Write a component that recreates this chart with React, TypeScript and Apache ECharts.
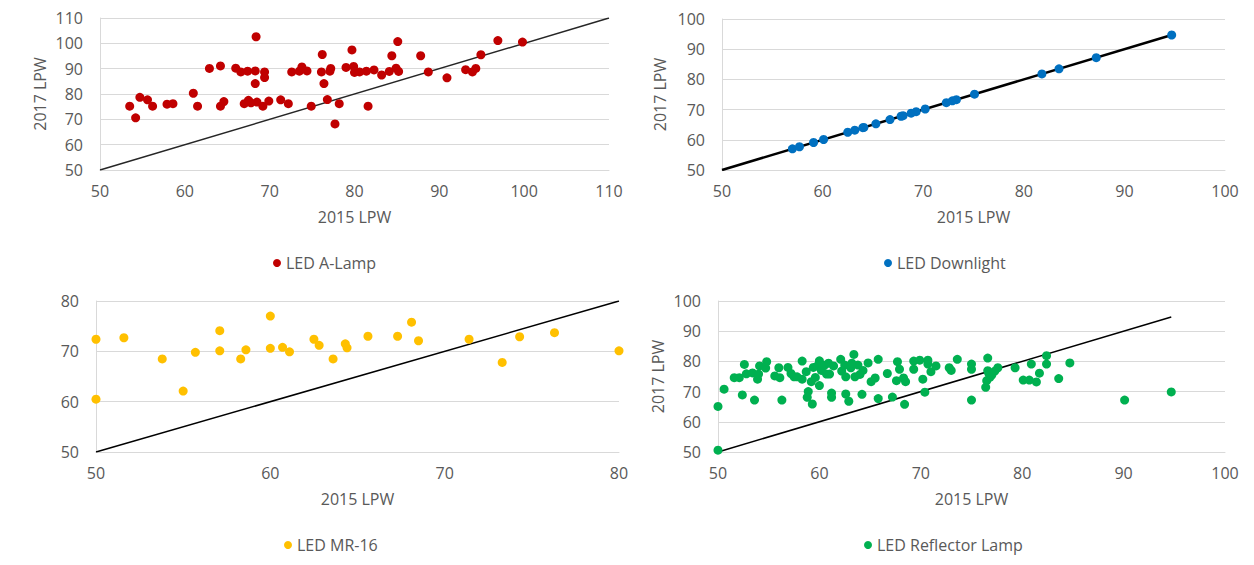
import React, { useEffect, useRef } from "react";
import * as echarts from "echarts";

// ---- Data ----
const aLamp: number[][] = [
  [53.5, 75.2], [54.2, 70.6], [54.7, 78.7], [55.6, 77.7], [56.2, 75.2], [57.9, 76.0], [58.6, 76.2],
  [61.0, 80.3], [61.5, 75.2], [62.9, 90.1], [64.2, 91.1], [64.2, 75.2], [64.6, 77.0], [66.0, 90.2],
  [66.6, 88.7], [67.4, 89.0], [67.0, 76.2], [67.5, 77.5], [67.8, 76.5], [68.4, 102.6], [68.3, 89.1],
  [68.3, 84.1], [68.5, 76.8], [69.2, 75.2], [69.4, 88.7], [69.4, 86.5], [69.9, 77.2], [71.3, 77.7],
  [72.2, 76.2], [72.6, 88.7], [73.5, 89.0], [73.8, 90.7], [74.4, 89.1], [74.9, 75.2], [76.2, 95.6],
  [76.1, 88.7], [76.4, 84.1], [76.8, 77.8], [77.1, 89.0], [77.2, 90.1], [77.7, 68.2], [78.2, 76.2],
  [79.0, 90.5], [79.7, 97.4], [79.9, 90.9], [80.0, 88.5], [80.6, 88.7], [81.4, 89.0], [81.6, 75.2],
  [82.3, 89.5], [83.2, 87.5], [84.1, 88.9], [84.4, 95.1], [84.9, 90.2], [85.1, 100.7], [85.2, 88.9],
  [87.8, 95.1], [88.7, 88.7], [90.9, 86.4], [93.1, 89.6], [93.9, 88.7], [94.3, 90.1], [94.9, 95.5],
  [96.9, 101.1], [99.8, 100.5],
];
const aLampLine: number[][] = [[50, 50], [110, 110]];

const downlight: number[][] = [
  [57.0, 57.0], [57.7, 57.7], [59.1, 59.1], [60.1, 60.1], [62.5, 62.5], [63.2, 63.2], [64.0, 64.0],
  [64.1, 64.1], [65.3, 65.3], [66.7, 66.7], [67.8, 67.8], [68.0, 68.0], [68.8, 68.8], [69.3, 69.3],
  [70.2, 70.2], [72.3, 72.3], [72.9, 72.9], [73.3, 73.3], [75.1, 75.1], [81.8, 81.8], [83.5, 83.5],
  [87.2, 87.2], [94.7, 94.7],
];
const downlightLine: number[][] = [[50, 50], [94.7, 94.7]];

const mr16: number[][] = [
  [50.0, 72.4], [50.0, 60.5], [51.6, 72.7], [53.8, 68.5], [55.0, 62.1], [55.7, 69.8], [57.1, 74.1],
  [57.1, 70.1], [58.3, 68.5], [58.6, 70.3], [60.0, 77.0], [60.0, 70.6], [60.7, 70.8], [61.1, 69.9],
  [62.5, 72.4], [62.8, 71.2], [63.6, 68.5], [64.3, 71.5], [64.4, 70.7], [65.6, 73.0], [67.3, 73.0],
  [68.1, 75.8], [68.5, 72.1], [71.4, 72.4], [73.3, 67.8], [74.3, 72.9], [76.3, 73.7], [80.0, 70.1],
];
const mr16Line: number[][] = [[50, 50], [80, 80]];

const reflector: number[][] = [
  [50.0, 65.1], [50.0, 50.6], [50.6, 70.8], [51.6, 74.6], [52.1, 74.6], [52.4, 68.9], [52.6, 79.0],
  [52.8, 75.9], [53.4, 76.2], [53.6, 67.2], [53.9, 74.1], [54.0, 75.8], [54.1, 78.5], [54.7, 77.8],
  [54.8, 79.9], [55.6, 75.2], [56.0, 77.9], [56.1, 74.6], [56.3, 67.2], [56.9, 78.0], [57.2, 76.0],
  [57.5, 74.9], [57.8, 74.9], [58.3, 80.1], [58.3, 74.1], [58.7, 76.6], [58.9, 70.0], [58.8, 68.1],
  [59.2, 73.3], [59.3, 65.9], [59.4, 78.0], [59.6, 74.7], [59.8, 78.5], [60.0, 80.2], [60.0, 72.0],
  [60.2, 77.0], [60.5, 78.7], [60.7, 75.8], [60.9, 79.4], [61.0, 75.8], [61.2, 69.5], [61.2, 68.1],
  [61.4, 78.5], [62.1, 80.7], [62.2, 76.8], [62.5, 78.8], [62.6, 69.2], [62.6, 74.9], [62.9, 66.8],
  [63.1, 77.9], [63.2, 79.4], [63.4, 82.3], [63.5, 74.9], [63.8, 78.8], [64.0, 75.7], [64.2, 69.1],
  [64.3, 77.0], [64.8, 79.5], [65.1, 73.3], [65.5, 74.5], [65.8, 67.7], [65.8, 80.7], [66.7, 76.0],
  [67.2, 68.2], [67.6, 73.6], [67.7, 79.9], [67.9, 77.4], [68.3, 74.5], [68.4, 65.8], [68.5, 73.3],
  [69.3, 77.4], [69.3, 80.1], [69.9, 80.4], [70.2, 74.1], [70.4, 69.8], [70.7, 80.4], [70.7, 79.1],
  [71.0, 76.6], [71.5, 78.5], [72.8, 77.9], [73.0, 77.0], [73.6, 80.7], [75.0, 79.1], [75.0, 77.4],
  [75.0, 67.2], [76.6, 81.1], [76.6, 76.9], [76.7, 76.1], [77.0, 75.5], [77.3, 76.8], [77.6, 77.9],
  [76.5, 73.6], [76.4, 71.4], [76.8, 74.7], [79.3, 77.9], [80.1, 73.8], [80.7, 73.8], [81.4, 73.2],
  [80.9, 79.1], [81.7, 76.1], [82.4, 81.9], [82.4, 79.1], [83.6, 74.3], [84.7, 79.5], [90.1, 67.2],
  [94.7, 69.9],
];
const reflectorLine: number[][] = [[50, 50], [94.7, 94.7]];

const seriesNames = ["LED A-Lamp", "LED Downlight", "LED MR-16", "LED Reflector Lamp"];
const xTitle = "2015 LPW";
const yTitle = "2017 LPW";

const FONT = "'Open Sans', sans-serif";
const FS = 16;
const TXT = "#595959";
const GRID = "#d9d9d9";

export default function App() {
  const ref = useRef<HTMLDivElement>(null);
  useEffect(() => {
    if (!ref.current) return;
    const chart = echarts.init(ref.current, undefined, { renderer: "svg" });

    const grids = [
      { left: 100, top: 18, width: 509, height: 152 },
      { left: 722, top: 19, width: 503, height: 151 },
      { left: 96, top: 301, width: 523, height: 151 },
      { left: 718, top: 301, width: 507, height: 151 },
    ];
    const ranges = [
      [50, 110, 50, 110],
      [50, 100, 50, 100],
      [50, 80, 50, 80],
      [50, 100, 50, 100],
    ];
    const yNameGap = [52, 54, 48, 52];
    const showYName = [true, true, false, true];

    const xAxis = ranges.map((r, i) => ({
      gridIndex: i,
      type: "value",
      min: r[0],
      max: r[1],
      interval: 10,
      name: xTitle,
      nameLocation: "middle",
      nameGap: 39,
      nameTextStyle: { color: TXT, fontSize: FS, fontFamily: FONT },
      axisLine: { show: true, lineStyle: { color: GRID, width: 1 } },
      axisTick: { show: false },
      splitLine: { show: false },
      axisLabel: { color: TXT, fontSize: FS, fontFamily: FONT, margin: 13 },
    }));
    const yAxis = ranges.map((r, i) => ({
      gridIndex: i,
      type: "value",
      min: r[2],
      max: r[3],
      interval: 10,
      name: showYName[i] ? yTitle : "",
      nameLocation: "middle",
      nameGap: yNameGap[i],
      nameTextStyle: { color: TXT, fontSize: FS, fontFamily: FONT },
      axisLine: { show: true, lineStyle: { color: GRID, width: 1 } },
      axisTick: { show: false },
      splitLine: { show: true, lineStyle: { color: GRID, width: 1 } },
      axisLabel: { color: TXT, fontSize: FS, fontFamily: FONT, margin: 17 },
    }));

    const scatterData = [aLamp, downlight, mr16, reflector];
    const lineData = [aLampLine, downlightLine, mr16Line, reflectorLine];
    const colors = ["#C00000", "#0070C0", "#FFC000", "#00B050"];
    const lineColors = ["#262626", "#000000", "#000000", "#000000"];
    const lineWidths = [1.5, 2.5, 1.5, 1.5];

    const series: any[] = [];
    for (let i = 0; i < 4; i++) {
      series.push({
        type: "line",
        name: "ref" + i,
        xAxisIndex: i,
        yAxisIndex: i,
        data: lineData[i],
        symbol: "none",
        lineStyle: { color: lineColors[i], width: lineWidths[i] },
        z: 2,
        silent: true,
      });
      series.push({
        type: "scatter",
        name: seriesNames[i],
        xAxisIndex: i,
        yAxisIndex: i,
        data: scatterData[i],
        symbol: "circle",
        symbolSize: 9,
        itemStyle: { color: colors[i], opacity: 1 },
        z: 3,
      });
    }

    const legendPos = [
      { left: 273, top: 255 },
      { left: 884, top: 255 },
      { left: 284, top: 537 },
      { left: 864, top: 537 },
    ];
    const legend = legendPos.map((p, i) => ({
      data: [seriesNames[i]],
      left: p.left,
      top: p.top,
      icon: "circle",
      itemWidth: 8,
      itemHeight: 8,
      itemGap: 6,
      textStyle: { color: TXT, fontSize: FS, fontFamily: FONT },
      padding: 0,
    }));

    chart.setOption({
      animation: false,
      backgroundColor: "#ffffff",
      grid: grids,
      xAxis,
      yAxis,
      series,
      legend,
    });
    return () => chart.dispose();
  }, []);

  return (
    <div
      ref={ref}
      style={{ position: "fixed", left: 0, top: 0, width: 1254, height: 565 }}
    />
  );
}
